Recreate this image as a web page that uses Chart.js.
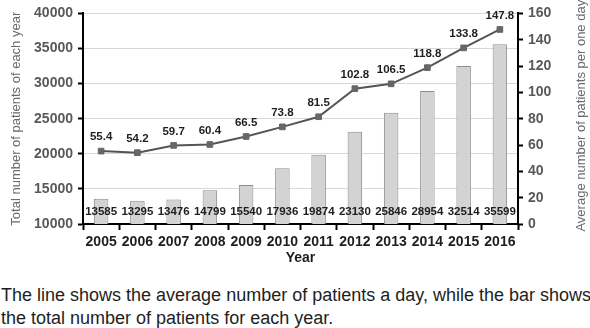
<!DOCTYPE html>
<html>
<head>
<meta charset="utf-8">
<script src="https://cdn.jsdelivr.net/npm/chart.js@4/dist/chart.umd.min.js"></script>
<style>
    html, body {
        margin: 0;
        padding: 0;
        background: #ffffff;
    }
    #wrap {
        position: relative;
        width: 590px;
        height: 328px;
        overflow: hidden;
    }
    #chartBox {
        position: absolute;
        left: 0;
        top: 0;
        width: 590px;
        height: 268px;
    }
    #caption {
        position: absolute;
        left: 1px;
        top: 284px;
        width: 620px;
        font-family: "Liberation Sans", Arial, sans-serif;
        font-size: 18px;
        line-height: 23px;
        color: #1e1e1e;
        white-space: nowrap;
    }
</style>
</head>
<body>
<div id="wrap">
    <div id="chartBox"><canvas id="patientsChart"></canvas></div>
    <div id="caption">The line shows the average number of patients a day, while the bar shows<br>the total number of patients for each year.</div>
</div>
<script>
const years = ["2005", "2006", "2007", "2008", "2009", "2010", "2011", "2012", "2013", "2014", "2015", "2016"];
const totalPatients = [13585, 13295, 13476, 14799, 15540, 17936, 19874, 23130, 25846, 28954, 32514, 35599];
const dailyAverage = [55.4, 54.2, 59.7, 60.4, 66.5, 73.8, 81.5, 102.8, 106.5, 118.8, 133.8, 147.8];

const totalAxisTicks = [10000, 15000, 20000, 25000, 30000, 35000, 40000];
const averageAxisTicks = [0, 20, 40, 60, 80, 100, 120, 140, 160];

const rightAxisTitle = "Average number of patients per one day";

const FONT = "'Liberation Sans', Arial, sans-serif";

// writes the numbers: yearly totals along the bottom, daily averages above the points
const valueLabels = {
    id: "valueLabels",
    afterDatasetsDraw(chart) {
        const ctx = chart.ctx;
        const area = chart.chartArea;
        const barMeta = chart.getDatasetMeta(0);
        const lineMeta = chart.getDatasetMeta(1);

        ctx.save();
        ctx.fillStyle = "#1e1e1e";
        ctx.font = "bold 11.5px " + FONT;
        ctx.textAlign = "center";
        ctx.textBaseline = "middle";

        barMeta.data.forEach((bar, i) => {
            ctx.fillText(String(totalPatients[i]), bar.x, area.bottom - 12);
        });

        lineMeta.data.forEach((point, i) => {
            ctx.fillText(dailyAverage[i].toFixed(1), point.x, point.y - 14);
        });
        ctx.restore();
    },
};

// right-hand title reads bottom to top, same as the left one
const rightTitle = {
    id: "rightTitle",
    afterDraw(chart) {
        const ctx = chart.ctx;
        const area = chart.chartArea;
        ctx.save();
        ctx.translate(581, (area.top + area.bottom) / 2 - 3);
        ctx.rotate(-Math.PI / 2);
        ctx.fillStyle = "#6a6a6a";
        ctx.font = "13px " + FONT;
        ctx.textAlign = "center";
        ctx.textBaseline = "middle";
        ctx.fillText(rightAxisTitle, 0, 0);
        ctx.restore();
    },
};

new Chart(document.getElementById("patientsChart"), {
    data: {
        labels: years,
        datasets: [
            {
                type: "bar",
                data: totalPatients,
                yAxisID: "y",
                backgroundColor: "#d3d3d3",
                borderColor: "#8c8c8c",
                borderWidth: 1,
                categoryPercentage: 1,
                barPercentage: 0.4,
                order: 2,
            },
            {
                type: "line",
                data: dailyAverage,
                yAxisID: "y1",
                borderColor: "#555555",
                borderWidth: 2,
                pointStyle: "rect",
                pointRadius: 4,
                pointBackgroundColor: "#666666",
                pointBorderColor: "#666666",
                pointBorderWidth: 1,
                tension: 0,
                order: 1,
            },
        ],
    },
    options: {
        responsive: true,
        maintainAspectRatio: false,
        animation: false,
        events: [],
        layout: {
            padding: { top: 13, left: 0, right: 0, bottom: 0 },
        },
        plugins: {
            legend: { display: false },
            tooltip: { enabled: false },
        },
        scales: {
            x: {
                offset: true,
                border: { color: "#000000", width: 2 },
                grid: {
                    offset: true,
                    drawOnChartArea: false,
                    tickLength: 6,
                    tickColor: "#000000",
                    tickWidth: 2,
                },
                ticks: {
                    color: "#1e1e1e",
                    font: { family: FONT, size: 14, weight: "bold" },
                    padding: 4,
                    maxRotation: 0,
                    autoSkip: false,
                },
                title: {
                    display: true,
                    text: "Year",
                    color: "#1e1e1e",
                    font: { family: FONT, size: 14, weight: "bold" },
                    padding: { top: 0, bottom: 1 },
                },
                afterFit(scale) {
                    scale.height = 44;
                },
            },
            y: {
                position: "left",
                min: totalAxisTicks[0],
                max: totalAxisTicks[totalAxisTicks.length - 1],
                afterBuildTicks(scale) {
                    scale.ticks = totalAxisTicks.map(v => ({ value: v }));
                },
                border: { color: "#000000", width: 2 },
                grid: {
                    color: "#d9d9d9",
                    lineWidth: 1,
                    tickLength: 5,
                    tickColor: "#000000",
                    tickWidth: 2,
                },
                ticks: {
                    color: "#595959",
                    font: { family: FONT, size: 14, weight: "bold" },
                    padding: 5,
                    callback: value => String(value),
                },
                title: {
                    display: true,
                    text: "Total number of patients of each year",
                    color: "#6a6a6a",
                    font: { family: FONT, size: 13 },
                    padding: { top: 9, bottom: 0 },
                },
                afterFit(scale) {
                    scale.width = 83;
                },
            },
            y1: {
                position: "right",
                min: averageAxisTicks[0],
                max: averageAxisTicks[averageAxisTicks.length - 1],
                afterBuildTicks(scale) {
                    scale.ticks = averageAxisTicks.map(v => ({ value: v }));
                },
                border: { color: "#000000", width: 2 },
                grid: {
                    drawOnChartArea: false,
                    tickLength: 5,
                    tickColor: "#000000",
                    tickWidth: 2,
                },
                ticks: {
                    color: "#595959",
                    font: { family: FONT, size: 14, weight: "bold" },
                    padding: 5,
                    callback: value => String(value),
                },
                afterFit(scale) {
                    scale.width = 72;
                },
            },
        },
    },
    plugins: [valueLabels, rightTitle],
});
</script>
</body>
</html>
